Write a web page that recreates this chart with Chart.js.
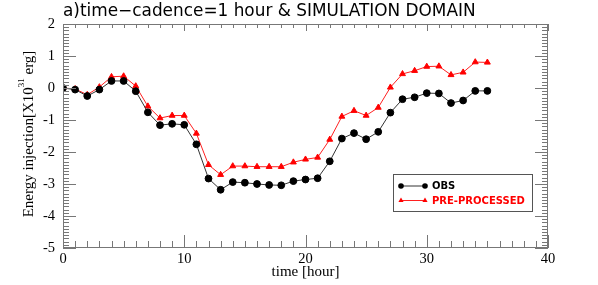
<!DOCTYPE html>
<html>
<head>
<meta charset="utf-8">
<script src="https://cdn.jsdelivr.net/npm/chart.js@4.4.0/dist/chart.umd.min.js"></script>
<style>
  html, body { margin: 0; padding: 0; background: #fff; }
  #wrap { width: 598px; height: 285px; }
</style>
</head>
<body>
<div id="wrap"><canvas id="myChart"></canvas></div>
<script>
  // hours since start
  const hours = [0,1,2,3,4,5,6,7,8,9,10,11,12,13,14,15,16,17,18,19,20,21,22,23,24,25,26,27,28,29,30,31,32,33,34,35];
  // energy injection, units of 1e31 erg
  const obs = [0.0,-0.05,-0.25,-0.05,0.22,0.22,-0.1,-0.76,-1.16,-1.12,-1.15,-1.76,-2.83,-3.18,-2.94,-2.96,-3.0,-3.03,-3.04,-2.91,-2.86,-2.82,-2.29,-1.58,-1.41,-1.6,-1.37,-0.77,-0.35,-0.29,-0.16,-0.17,-0.47,-0.39,-0.09,-0.09];
  const pre = [0.0,-0.03,-0.21,0.03,0.35,0.37,0.06,-0.57,-0.94,-0.86,-0.86,-1.42,-2.4,-2.71,-2.44,-2.44,-2.46,-2.46,-2.46,-2.32,-2.23,-2.17,-1.61,-0.89,-0.71,-0.86,-0.61,0.02,0.44,0.54,0.67,0.68,0.41,0.49,0.81,0.8];
  const xTicks = [0, 10, 20, 30, 40];
  const yTicks = [-5, -4, -3, -2, -1, 0, 1, 2];

  const serif = "'Liberation Serif', 'Times New Roman', serif";
  const sans = "'DejaVu Sans', sans-serif";

  // frame, inward ticks, title, y label and legend
  const decor = {
    id: "decor",
    afterDraw(chart) {
      const ctx = chart.ctx;
      const a = chart.chartArea;
      const xs = chart.scales.x, ys = chart.scales.y;
      ctx.save();
      ctx.strokeStyle = "#777";
      ctx.lineWidth = 1;
      ctx.strokeRect(Math.round(a.left) + 0.5, Math.round(a.top) + 0.5, Math.round(a.right - a.left) - 1, Math.round(a.bottom - a.top) - 1);
      ctx.beginPath();
      for (let v = 0; v <= 40; v++) {
        const px = Math.round(xs.getPixelForValue(v)) + 0.5;
        const major = v % 10 === 0;
        ctx.moveTo(px, a.bottom); ctx.lineTo(px, a.bottom - (major ? 13 : 7));
        ctx.moveTo(px, a.top); ctx.lineTo(px, a.top + (major ? 7 : 4));
      }
      for (let i = -50; i <= 20; i++) {
        const py = Math.round(ys.getPixelForValue(i / 10)) + 0.5;
        const major = i % 10 === 0;
        const len = major ? 13 : 6;
        ctx.moveTo(a.left, py); ctx.lineTo(a.left + len, py);
        ctx.moveTo(a.right, py); ctx.lineTo(a.right - len, py);
      }
      ctx.stroke();

      // title
      ctx.fillStyle = "#000";
      ctx.font = "16.9px " + sans;
      ctx.textBaseline = "alphabetic";
      ctx.textAlign = "left";
      ctx.fillText("a)time\u2212cadence=1 hour & SIMULATION DOMAIN", 63, 16);

      // y axis label with superscript
      ctx.save();
      const main1 = "Energy injection[X10", sup = "31", main2 = " erg]";
      ctx.font = "15px " + serif;
      const w1 = ctx.measureText(main1).width, w3 = ctx.measureText(main2).width;
      ctx.font = "9px " + serif;
      const w2 = ctx.measureText(sup).width;
      const total = w1 + w2 + w3;
      ctx.translate(33, (a.top + a.bottom) / 2 - 2);
      ctx.rotate(-Math.PI / 2);
      let x0 = -total / 2;
      ctx.font = "15px " + serif;
      ctx.fillText(main1, x0, 0);
      ctx.font = "9px " + serif;
      ctx.fillText(sup, x0 + w1, -9);
      ctx.font = "15px " + serif;
      ctx.fillText(main2, x0 + w1 + w2, 0);
      ctx.restore();

      // legend
      const bx = 393.5, by = 174.5, bw = 139, bh = 37;
      ctx.fillStyle = "#fff";
      ctx.fillRect(bx, by, bw, bh);
      ctx.strokeStyle = "#555";
      ctx.strokeRect(bx, by, bw, bh);
      const rows = [
        { ds: chart.data.datasets[0], y: 186, color: "#000" },
        { ds: chart.data.datasets[1], y: 200.5, color: "#ff0000" }
      ];
      ctx.font = "bold 10px " + sans;
      ctx.textBaseline = "middle";
      rows.forEach(r => {
        ctx.strokeStyle = r.ds.borderColor;
        ctx.lineWidth = 1;
        ctx.beginPath(); ctx.moveTo(401, r.y); ctx.lineTo(425, r.y); ctx.stroke();
        ctx.fillStyle = r.ds.pointBackgroundColor;
        [401, 425].forEach(px => {
          ctx.beginPath();
          if (r.ds.pointStyle === "triangle") {
            ctx.moveTo(px, r.y - 3); ctx.lineTo(px + 2.6, r.y + 1.5); ctx.lineTo(px - 2.6, r.y + 1.5);
          } else {
            ctx.arc(px, r.y, 2.8, 0, Math.PI * 2);
          }
          ctx.fill();
        });
        ctx.fillStyle = r.color;
        ctx.fillText(r.ds.label, 432, r.y + 0.5);
      });
      ctx.restore();
    }
  };

  const config = {
    type: "line",
    data: {
      datasets: [
        {
          label: "OBS",
          data: hours.map((h, i) => ({ x: h, y: obs[i] })),
          borderColor: "#333",
          backgroundColor: "#000",
          pointBackgroundColor: "#000",
          pointBorderColor: "#000",
          pointStyle: "circle",
          pointRadius: 3.4,
          borderWidth: 1,
          tension: 0
        },
        {
          label: "PRE-PROCESSED",
          data: hours.map((h, i) => ({ x: h, y: pre[i] })),
          borderColor: "#ff2020",
          backgroundColor: "#ff0000",
          pointBackgroundColor: "#ff0000",
          pointBorderColor: "#ff0000",
          pointStyle: "triangle",
          pointRadius: 3.4,
          borderWidth: 1,
          tension: 0
        }
      ]
    },
    options: {
      responsive: true,
      maintainAspectRatio: false,
      animation: false,
      layout: { padding: { top: 24, right: 50, left: 0, bottom: 0 } },
      plugins: { legend: { display: false }, tooltip: { enabled: false }, title: { display: false } },
      scales: {
        x: {
          type: "linear",
          min: 0, max: 40,
          afterFit: s => { s.height = 37; },
          afterBuildTicks: s => { s.ticks = xTicks.map(v => ({ value: v })); },
          grid: { display: false, drawTicks: false },
          border: { display: false },
          ticks: { color: "#000", font: { family: serif, size: 14.5 }, padding: 2, maxRotation: 0 },
          title: { display: true, text: "time [hour]", color: "#000", font: { family: serif, size: 15 }, padding: { top: 0, bottom: 4 } }
        },
        y: {
          type: "linear",
          min: -5, max: 2,
          afterFit: s => { s.width = 63; },
          afterBuildTicks: s => { s.ticks = yTicks.map(v => ({ value: v })); },
          grid: { display: false, drawTicks: false },
          border: { display: false },
          ticks: { color: "#000", font: { family: serif, size: 14.5 }, padding: 8 }
        }
      }
    },
    plugins: [decor]
  };
  var myChart = new Chart(document.getElementById("myChart"), config);
</script>
</body>
</html>
